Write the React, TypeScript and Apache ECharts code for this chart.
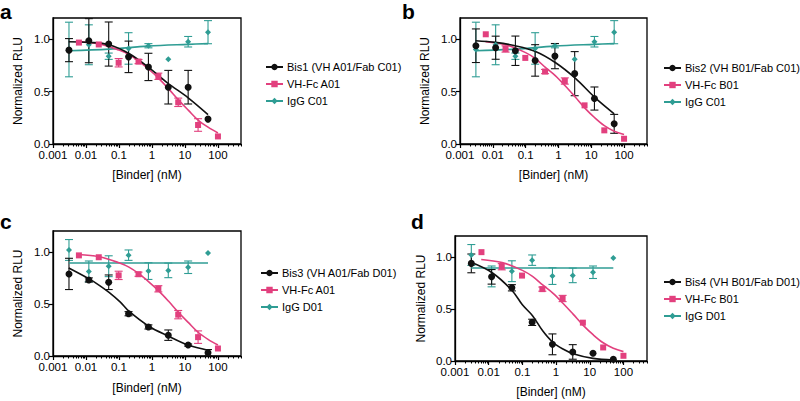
import React, { useEffect, useRef } from "react";
import * as echarts from "echarts";

// ---------- data ----------
const X_BIS = [0.00305, 0.0122, 0.0488, 0.195, 0.781, 3.125, 12.5, 50];
const X_VHFC = [0.0061, 0.0244, 0.0977, 0.391, 1.5625, 6.25, 25, 100];

const X_TICKS = [0.001, 0.01, 0.1, 1, 10, 100];
const X_TICK_LABELS = ["0.001", "0.01", "0.1", "1", "10", "100"];
const Y_TICKS = [0, 0.5, 1];
const Y_TICK_LABELS = ["0.0", "0.5", "1.0"];

// panel a
const BIS1_Y = [0.894, 0.984, 0.952, 0.83, 0.734, 0.541, 0.541, 0.237];
const BIS1_SD = [0.11, 0.21, 0.21, 0.15, 0.13, 0.16, 0.16, 0];
const BIS1_FIT_X = [0.003, 0.012, 0.05, 0.2, 0.76, 3, 12.5, 50];
const BIS1_FIT_Y = [0.974, 0.968, 0.945, 0.862, 0.734, 0.58, 0.44, 0.28];

const VHFC_A01_Y = [0.966, 0.948, 0.774, 0.785, 0.645, 0.397, 0.181, 0.072];
const VHFC_A01_SD = [0, 0, 0.04, 0.02, 0.03, 0.04, 0.06, 0];
const VHFC_A01_FIT_X = [0.006, 0.025, 0.1, 0.2, 0.4, 0.8, 1.6, 3.2, 6.4, 12.8, 25, 50, 100];
const VHFC_A01_FIT_Y = [0.975, 0.953, 0.895, 0.853, 0.79, 0.712, 0.625, 0.525, 0.418, 0.32, 0.228, 0.16, 0.105];

const IGG_C01_Y = [0.9, 0.945, 0.836, 0.91, 0.936, 0.808, 0.974, 1.065];
const IGG_C01_SD = [0.26, 0.19, 0.03, 0.15, 0.02, 0, 0.05, 0.11];
const IGG_C01_FIT_X = [0.003, 0.05, 0.76, 12.5, 50];
const IGG_C01_FIT_Y = [0.888, 0.904, 0.932, 0.949, 0.956];

// panel b
const BIS2_Y = [0.936, 0.917, 0.888, 0.796, 0.837, 0.67, 0.433, 0.192];
const BIS2_SD = [0.16, 0.11, 0.14, 0.15, 0.12, 0.21, 0.11, 0.09];
const BIS2_FIT_X = [0.003, 0.012, 0.048, 0.2, 0.8, 3.3, 13, 50];
const BIS2_FIT_Y = [0.984, 0.968, 0.936, 0.881, 0.776, 0.625, 0.442, 0.288];

const VHFC_B01_Y = [1.045, 0.905, 0.82, 0.69, 0.6, 0.368, 0.13, 0.05];
const VHFC_B01_SD = [0, 0.03, 0, 0.02, 0.03, 0, 0, 0];
const VHFC_B01_FIT_X = [0.006, 0.025, 0.1, 0.2, 0.4, 0.8, 1.6, 3.2, 6.4, 12.8, 25, 50, 100];
const VHFC_B01_FIT_Y = [0.975, 0.945, 0.87, 0.812, 0.73, 0.652, 0.555, 0.45, 0.342, 0.25, 0.175, 0.122, 0.09];

// panel c
const BIS3_Y = [0.788, 0.73, 0.708, 0.406, 0.279, 0.2, 0.105, 0.032];
const BIS3_SD = [0.15, 0.02, 0.07, 0.02, 0.02, 0.05, 0.01, 0.03];
const BIS3_FIT_X = [0.003, 0.0125, 0.026, 0.05, 0.11, 0.2, 0.8, 3.2, 12.5, 50];
const BIS3_FIT_Y = [0.845, 0.74, 0.676, 0.61, 0.517, 0.43, 0.286, 0.19, 0.105, 0.055];

const IGG_D01_Y = [1.018, 0.812, 0.862, 0.968, 0.815, 0.822, 0.852, 0.988];
const IGG_D01_SD = [0.1, 0.1, 0.1, 0.05, 0.08, 0.07, 0.06, 0];
const IGG_D01_FIT_X = [0.003, 50];
const IGG_D01_FIT_Y = [0.893, 0.893];

// panel d
const BIS4_Y = [0.937, 0.808, 0.703, 0.371, 0.16, 0.087, 0.074, 0.016];
const BIS4_SD = [0.09, 0.07, 0.03, 0.03, 0.1, 0.07, 0, 0];
const BIS4_FIT_X = [0.003, 0.013, 0.05, 0.1, 0.2, 0.4, 0.8, 1.6, 3.2, 12.5, 50];
const BIS4_FIT_Y = [0.947, 0.845, 0.675, 0.54, 0.435, 0.29, 0.18, 0.115, 0.07, 0.025, 0.01];

const X_MIN = 0.001;
const X_MAX = 500;

const BLACK = "#111111";
const PINK = "#e2407e";
const TEAL = "#2f9d94";
const FONT = "'Liberation Sans', Arial, Helvetica, sans-serif";

// minor ticks (2..9 within each decade) of the log axis
const X_MINOR: number[] = [];
for (const d of X_TICKS) {
  for (let k = 2; k <= 9; k++) {
    const v = d * k;
    if (v <= X_MAX) X_MINOR.push(v);
  }
}

type DS = {
  name: string;
  color: string;
  symbol: string;
  size: number;
  x: number[];
  y: number[];
  sd: number[];
  fx: number[];
  fy: number[];
};

const PANELS: { letter: string; sets: DS[] }[] = [
  {
    letter: "a",
    sets: [
      { name: "Bis1 (VH A01/Fab C01)", color: BLACK, symbol: "circle", size: 7, x: X_BIS, y: BIS1_Y, sd: BIS1_SD, fx: BIS1_FIT_X, fy: BIS1_FIT_Y },
      { name: "VH-Fc A01", color: PINK, symbol: "rect", size: 6, x: X_VHFC, y: VHFC_A01_Y, sd: VHFC_A01_SD, fx: VHFC_A01_FIT_X, fy: VHFC_A01_FIT_Y },
      { name: "IgG C01", color: TEAL, symbol: "diamond", size: 6, x: X_BIS, y: IGG_C01_Y, sd: IGG_C01_SD, fx: IGG_C01_FIT_X, fy: IGG_C01_FIT_Y },
    ],
  },
  {
    letter: "b",
    sets: [
      { name: "Bis2 (VH B01/Fab C01)", color: BLACK, symbol: "circle", size: 7, x: X_BIS, y: BIS2_Y, sd: BIS2_SD, fx: BIS2_FIT_X, fy: BIS2_FIT_Y },
      { name: "VH-Fc B01", color: PINK, symbol: "rect", size: 6, x: X_VHFC, y: VHFC_B01_Y, sd: VHFC_B01_SD, fx: VHFC_B01_FIT_X, fy: VHFC_B01_FIT_Y },
      { name: "IgG C01", color: TEAL, symbol: "diamond", size: 6, x: X_BIS, y: IGG_C01_Y, sd: IGG_C01_SD, fx: IGG_C01_FIT_X, fy: IGG_C01_FIT_Y },
    ],
  },
  {
    letter: "c",
    sets: [
      { name: "Bis3 (VH A01/Fab D01)", color: BLACK, symbol: "circle", size: 7, x: X_BIS, y: BIS3_Y, sd: BIS3_SD, fx: BIS3_FIT_X, fy: BIS3_FIT_Y },
      { name: "VH-Fc A01", color: PINK, symbol: "rect", size: 6, x: X_VHFC, y: VHFC_A01_Y, sd: VHFC_A01_SD, fx: VHFC_A01_FIT_X, fy: VHFC_A01_FIT_Y },
      { name: "IgG D01", color: TEAL, symbol: "diamond", size: 6, x: X_BIS, y: IGG_D01_Y, sd: IGG_D01_SD, fx: IGG_D01_FIT_X, fy: IGG_D01_FIT_Y },
    ],
  },
  {
    letter: "d",
    sets: [
      { name: "Bis4 (VH B01/Fab D01)", color: BLACK, symbol: "circle", size: 7, x: X_BIS, y: BIS4_Y, sd: BIS4_SD, fx: BIS4_FIT_X, fy: BIS4_FIT_Y },
      { name: "VH-Fc B01", color: PINK, symbol: "rect", size: 6, x: X_VHFC, y: VHFC_B01_Y, sd: VHFC_B01_SD, fx: VHFC_B01_FIT_X, fy: VHFC_B01_FIT_Y },
      { name: "IgG D01", color: TEAL, symbol: "diamond", size: 6, x: X_BIS, y: IGG_D01_Y, sd: IGG_D01_SD, fx: IGG_D01_FIT_X, fy: IGG_D01_FIT_Y },
    ],
  },
];

// layout (pixels)
const LAYOUT = [
  { left: 53, top: 18, width: 188, height: 126, lgLeft: 265, lgTop: 60, lx: 0, ly: 11, yGap: 29, xGap: 25 },
  { left: 460, top: 18, width: 187, height: 126, lgLeft: 663, lgTop: 61, lx: 402, ly: 11, yGap: 29, xGap: 25 },
  { left: 53, top: 231, width: 188, height: 125, lgLeft: 260, lgTop: 266, lx: 0, ly: 221, yGap: 29, xGap: 26 },
  { left: 455, top: 236, width: 192, height: 125, lgLeft: 663, lgTop: 275, lx: 411, ly: 221, yGap: 28, xGap: 25 },
];

function buildOption() {
  const grid: any[] = [];
  const xAxis: any[] = [];
  const yAxis: any[] = [];
  const legend: any[] = [];
  const series: any[] = [];
  const graphic: any[] = [];

  PANELS.forEach((p, i) => {
    const L = LAYOUT[i];
    grid.push({
      left: L.left,
      top: L.top,
      width: L.width,
      height: L.height,
      show: true,
      borderColor: "#000",
      borderWidth: 1.3,
      backgroundColor: "transparent",
    });
    xAxis.push({
      type: "log",
      logBase: 10,
      gridIndex: i,
      min: X_MIN,
      max: X_MAX,
      axisLine: { lineStyle: { color: "#000", width: 1.3 } },
      axisTick: { customValues: X_TICKS, length: 4, lineStyle: { color: "#000", width: 1.2 } },
      axisLabel: {
        customValues: X_TICKS,
        color: "#000",
        fontSize: 11.5,
        fontFamily: FONT,
        margin: 5,
        formatter: (v: number) => {
          let best = 0;
          X_TICKS.forEach((t, k) => {
            if (Math.abs(Math.log10(t) - Math.log10(v)) < Math.abs(Math.log10(X_TICKS[best]) - Math.log10(v))) best = k;
          });
          return X_TICK_LABELS[best];
        },
      },
      splitLine: { show: false },
      minorTick: { show: false },
      name: "[Binder] (nM)",
      nameLocation: "middle",
      nameGap: L.xGap,
      nameTextStyle: { color: "#000", fontSize: 12, fontFamily: FONT },
    });
    yAxis.push({
      type: "value",
      gridIndex: i,
      min: 0,
      max: 1.2,
      axisLine: { show: true, lineStyle: { color: "#000", width: 1.3 } },
      axisTick: { show: true, customValues: Y_TICKS, length: 4, lineStyle: { color: "#000", width: 1.2 } },
      axisLabel: {
        customValues: Y_TICKS,
        color: "#000",
        fontSize: 11.5,
        fontFamily: FONT,
        margin: 3,
        formatter: (v: number) => {
          const k = Y_TICKS.findIndex((t) => Math.abs(t - v) < 1e-6);
          return k >= 0 ? Y_TICK_LABELS[k] : "";
        },
      },
      splitLine: { show: false },
      name: "Normalized RLU",
      nameLocation: "middle",
      nameGap: L.yGap,
      nameRotate: 90,
      nameTextStyle: { color: "#000", fontSize: 12, fontFamily: FONT },
    });
    legend.push({
      orient: "vertical",
      left: L.lgLeft,
      top: L.lgTop,
      padding: 0,
      itemWidth: 17,
      itemHeight: 8,
      itemGap: 3,
      selectedMode: false,
      data: p.sets.map((s) => s.name),
      textStyle: { color: "#000", fontSize: 11, fontFamily: FONT, lineHeight: 14, padding: [0, 0, 0, -1] },
    });
    graphic.push({
      type: "text",
      x: L.lx,
      y: L.ly,
      style: {
        text: p.letter,
        fontSize: 21,
        fontWeight: "bold",
        fontFamily: FONT,
        fill: "#000",
        verticalAlign: "middle",
      },
    });
  });

  // minor tick axes (no line, no labels)
  PANELS.forEach((_p, i) => {
    xAxis.push({
      type: "log",
      logBase: 10,
      gridIndex: i,
      min: X_MIN,
      max: X_MAX,
      position: "bottom",
      axisLine: { show: false },
      axisLabel: { show: false },
      axisTick: { show: true, customValues: X_MINOR, length: 2.5, lineStyle: { color: "#000", width: 1 } },
      splitLine: { show: false },
    });
  });

  // series: draw teal first, then pink, then black on top
  PANELS.forEach((p, i) => {
    const order = [2, 1, 0];
    order.forEach((k) => {
      const s = p.sets[k];
      const zBase = 3 - k;
      series.push({
        type: "custom",
        xAxisIndex: i,
        yAxisIndex: i,
        z: 2,
        silent: true,
        data: s.x.map((x, j) => [x, s.y[j], s.sd[j]]),
        encode: { x: 0, y: 1 },
        renderItem: (_params: any, api: any) => {
          const x = api.value(0);
          const y = api.value(1);
          const e = api.value(2);
          if (!e) return null;
          const hi = api.coord([x, y + e]);
          const lo = api.coord([x, y - e]);
          const w = 4;
          const st = { stroke: s.color, lineWidth: 1.1 };
          return {
            type: "group",
            children: [
              { type: "line", shape: { x1: hi[0], y1: hi[1], x2: lo[0], y2: lo[1] }, style: st },
              { type: "line", shape: { x1: hi[0] - w, y1: hi[1], x2: hi[0] + w, y2: hi[1] }, style: st },
              { type: "line", shape: { x1: lo[0] - w, y1: lo[1], x2: lo[0] + w, y2: lo[1] }, style: st },
            ],
          };
        },
      });
      series.push({
        type: "line",
        name: s.name,
        xAxisIndex: i,
        yAxisIndex: i,
        z: 3 + zBase * 0.1,
        data: s.fx.map((x, j) => [x, s.fy[j]]),
        smooth: 0.35,
        symbol: s.symbol,
        symbolSize: s.size,
        showSymbol: false,
        lineStyle: { color: s.color, width: 1.6 },
        itemStyle: { color: s.color },
        silent: true,
      });
      series.push({
        type: "scatter",
        xAxisIndex: i,
        yAxisIndex: i,
        z: 4 + zBase * 0.1,
        data: s.x.map((x, j) => [x, s.y[j]]),
        symbol: s.symbol,
        symbolSize: s.size,
        itemStyle: { color: s.color, opacity: 1 },
        silent: true,
      });
    });
  });

  return {
    animation: false,
    backgroundColor: "#fff",
    textStyle: { fontFamily: FONT },
    grid,
    xAxis,
    yAxis,
    legend,
    series,
    graphic,
  };
}

export default function App() {
  const ref = useRef<HTMLDivElement>(null);
  useEffect(() => {
    if (!ref.current) return;
    const chart = echarts.init(ref.current, undefined, { renderer: "svg" });
    chart.setOption(buildOption() as any);
    return () => chart.dispose();
  }, []);
  return (
    <div
      ref={ref}
      style={{ position: "fixed", left: 0, top: 0, width: 800, height: 401, background: "#fff" }}
    />
  );
}
